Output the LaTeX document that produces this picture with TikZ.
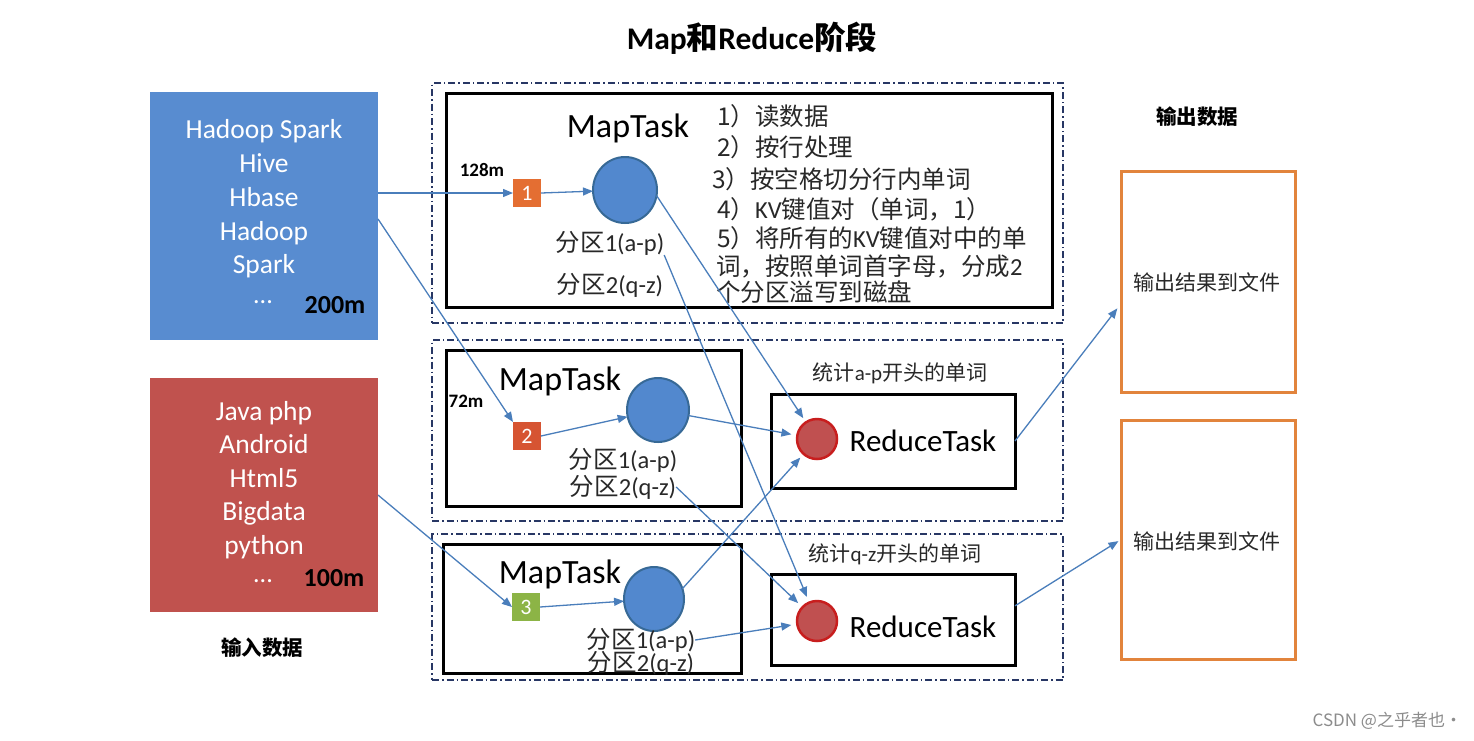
\documentclass[tikz,border=0pt]{standalone}
\usepackage{fontspec}
\setmainfont{Carlito}
\newfontfamily\cjk{Noto Sans CJK SC}
\usetikzlibrary{arrows.meta,shapes.geometric,calc}
\definecolor{boxblue}{RGB}{88,140,208}
\definecolor{boxred}{RGB}{192,82,78}
\definecolor{cblue}{RGB}{82,136,206}
\definecolor{cblueb}{RGB}{55,105,150}
\definecolor{rfill}{RGB}{192,80,80}
\definecolor{rbord}{RGB}{200,30,30}
\definecolor{sqone}{RGB}{228,110,50}
\definecolor{sqtwo}{RGB}{214,84,50}
\definecolor{sqthree}{RGB}{140,180,70}
\definecolor{dashc}{RGB}{40,55,100}
\definecolor{arrowc}{RGB}{74,126,187}
\definecolor{outc}{RGB}{226,132,60}
\definecolor{txtc}{RGB}{40,40,40}
\newcommand\fsz[2]{\fontsize{#1}{#2}\selectfont}
\newcommand\zh[1]{{\cjk #1}}
\begin{document}
\begin{tikzpicture}[x=1pt,y=-1pt,
  every node/.style={inner sep=0pt,outer sep=0pt},
  dashbox/.style={draw=dashc,line width=1.4pt,dash pattern=on 7pt off 3pt on 1.5pt off 3pt},
  taskbox/.style={draw=black,line width=3pt},
  inbox/.style={text=white,align=center},
  sq/.style={minimum size=28pt,text=white,font=\fsz{22}{26}},
  mcirc/.style={ellipse,fill=cblue,draw=cblueb,line width=2pt},
  rcirc/.style={circle,fill=rfill,draw=rbord,line width=2.5pt,minimum size=40pt},
  outbox/.style={draw=outc,line width=3pt,minimum width=174pt},
  flow/.style={draw=arrowc,line width=1.3pt,-{Triangle[length=10pt,width=8pt]}},
  lbl/.style={text=txtc,font=\fsz{24.5}{28}},
  lst/.style={text=txtc,font=\fsz{24.5}{28},anchor=west}]
\useasboundingbox (0,0) rectangle (1474,740);
\fill[white] (0,0) rectangle (1474,740);

% title
\node (title) at (752,38) {\fsz{31.5}{36}\textbf{Map}{\cjk\bfseries 和}\textbf{Reduce}{\cjk\bfseries 阶段}};

% input boxes
\node[fill=boxblue,minimum width=228pt,minimum height=248pt] (blue) at (264,216) {};
\node[inbox,font=\fsz{27.5}{33.75}] (bluetxt) at (264,199) {Hadoop Spark\\Hive\\Hbase\\Hadoop\\Spark};
\node[text=white,font=\fsz{26}{30}] (bluedots) at (263,302) {...};
\node[font=\fsz{26}{30}\bfseries] (b200) at (335,305) {200m};

\node[fill=boxred,minimum width=228pt,minimum height=234pt] (red) at (264,495) {};
\node[inbox,font=\fsz{27.5}{33.5}] (redtxt) at (264,480) {Java php\\Android\\Html5\\Bigdata\\python};
\node[text=white,font=\fsz{26}{30}] (reddots) at (263,581) {...};
\node[font=\fsz{26}{30}\bfseries] (r100) at (334,578) {100m};
\node[font=\fsz{20.5}{24}] (inlab) at (262,648) {\cjk\bfseries 输入数据};

% dashed containers
\node[dashbox,minimum width=631pt,minimum height=240pt] (d1) at (747.5,203) {};
\node[dashbox,minimum width=631pt,minimum height=181pt] (d2) at (747.5,430.5) {};
\node[dashbox,minimum width=631pt,minimum height=146pt] (d3) at (747.5,607) {};

% task boxes
\node[taskbox,minimum width=606pt,minimum height=214pt] (m1) at (749,200) {};
\node[taskbox,minimum width=295pt,minimum height=156pt] (m2) at (593.5,428) {};
\node[taskbox,minimum width=298pt,minimum height=129pt] (m3) at (592,608.5) {};
\node[taskbox,minimum width=244pt,minimum height=94pt] (rb1) at (893,441) {};
\node[taskbox,minimum width=244pt,minimum height=91pt] (rb2) at (893,619.5) {};

% map task 1
\node[font=\fsz{34}{38}] (mt1) at (628,128) {MapTask};
\node[font=\fsz{19}{22}\bfseries] (k128) at (482,170) {128m};
\node[sq,fill=sqone] (sq1) at (527,193) {1};
\node[mcirc,minimum width=64pt,minimum height=66pt] (c1) at (625,190) {};
\node[lbl] (p1a) at (610,243) {\zh{分区}1(a-p)};
\node[lbl] (p1b) at (610,285) {\zh{分区}2(q-z)};
\node[lst] (s1) at (717,116) {\zh{1）读数据}};
\node[lst] (s2) at (717,147) {\zh{2）按行处理}};
\node[lst] (s3) at (712,179) {\zh{3）按空格切分行内单词}};
\node[lst] (s4) at (717,209) {\zh{4）}KV\zh{键值对（单词，1）}};
\node[lst] (s5) at (717,238) {\zh{5）将所有的}KV\zh{键值对中的单}};
\node[lst] (s6) at (716,266) {\zh{词，按照单词首字母，分成}2};
\node[lst] (s7) at (716,292) {\zh{个分区溢写到磁盘}};

% map task 2
\node[font=\fsz{34}{38}] (mt2) at (560,381) {MapTask};
\node[font=\fsz{19}{22}\bfseries] (k72) at (466,401) {72m};
\node[sq,fill=sqtwo] (sq2) at (527,436) {2};
\node[mcirc,minimum width=62pt,minimum height=64pt] (c2) at (658,410) {};
\node[lbl] (p2a) at (623,460) {\zh{分区}1(a-p)};
\node[lbl] (p2b) at (623,487) {\zh{分区}2(q-z)};

% map task 3
\node[font=\fsz{34}{38}] (mt3) at (560,574) {MapTask};
\node[sq,fill=sqthree] (sq3) at (526,607) {3};
\node[mcirc,minimum width=60pt,minimum height=64pt] (c3) at (654,599) {};
\node[lbl] (p3a) at (641,640) {\zh{分区}1(a-p)};
\node[lbl] (p3b) at (641,663) {\zh{分区}2(q-z)};

% reduce tasks
\node[text=txtc,font=\fsz{21}{24}] (st1) at (900,373) {\zh{统计}a-p\zh{开头的单词}};
\node[rcirc] (rc1) at (817,439) {};
\node[font=\fsz{31}{35}] (rt1) at (923,441) {ReduceTask};
\node[text=txtc,font=\fsz{21}{24}] (st2) at (895,554) {\zh{统计}q-z\zh{开头的单词}};
\node[rcirc] (rc2) at (817,621) {};
\node[font=\fsz{31}{35}] (rt2) at (923,627) {ReduceTask};

% outputs
\node[font=\fsz{20.5}{24}] (outlab) at (1197,117) {\cjk\bfseries 输出数据};
\node[outbox,minimum height=221pt] (o1) at (1208,281.5) {};
\node[text=txtc,font=\fsz{21}{24}] (o1t) at (1207,282) {\zh{输出结果到文件}};
\node[outbox,minimum height=239pt] (o2) at (1208,539.5) {};
\node[text=txtc,font=\fsz{21}{24}] (o2t) at (1207,541) {\zh{输出结果到文件}};

\node[anchor=east,text=black!45,font=\fsz{17}{20}] (wm) at (1462,721) {\zh{CSDN @之乎者也·}};

% connectors
\draw[flow] (blue.east |- sq1) -- (sq1.west);
\draw[flow] (sq1.east) -- (c1);
\draw[flow] ([yshift=-3pt]blue.east) -- (sq2.north west);
\draw[flow] (sq2.east) -- (c2);
\draw[flow] (red.east) -- (sq3.west);
\draw[flow] (sq3.east) -- (c3);
\draw[flow,shorten >=5pt] (c1.-10) -- (rc1);
\draw[flow,shorten >=6pt] (p1a.south east) -- (rc2);
\draw[flow,shorten >=6pt] (c2) -- (rc1);
\draw[flow,shorten >=6pt] (p2b.east) -- (rc2);
\draw[flow,shorten >=5pt] (c3.20) -- (rc1);
\draw[flow,shorten >=6pt] (p3a.east) -- (rc2);
\draw[flow,shorten >=6pt] (rb1.east) -- ($(o1.south west)!0.4!(o1.north west)$);
\draw[flow,shorten >=3pt] ($(rb2.north east)!0.35!(rb2.south east)$) -- (o2.west);
\end{tikzpicture}
\end{document}
